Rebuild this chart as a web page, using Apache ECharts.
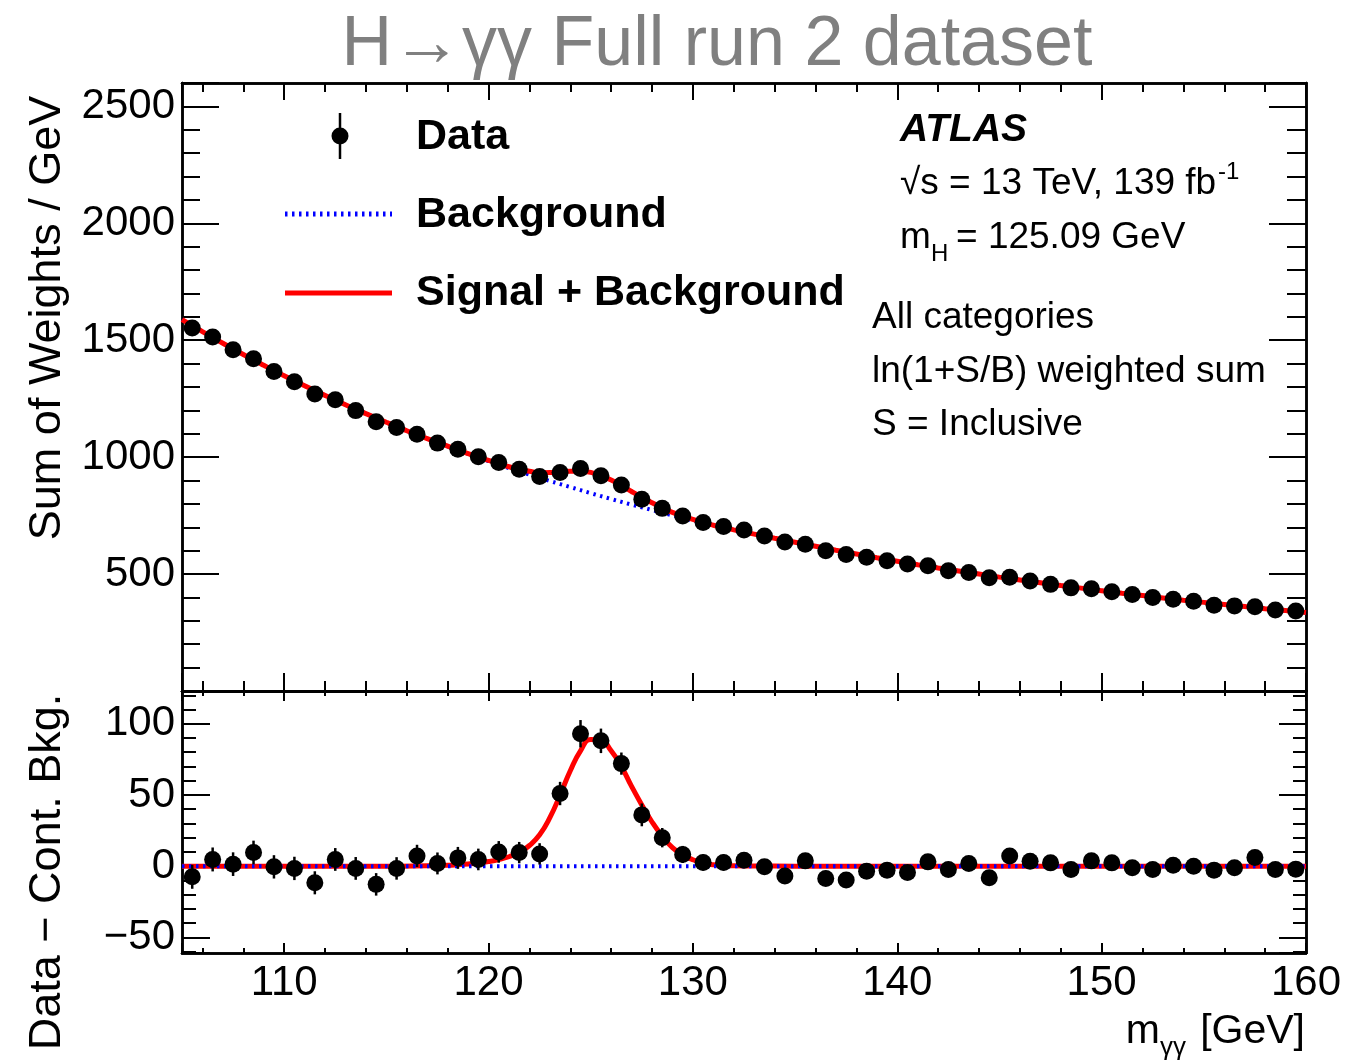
<!DOCTYPE html>
<html>
<head>
<meta charset="utf-8">
<title>H→γγ Full run 2 dataset</title>
<script src="https://cdn.jsdelivr.net/npm/echarts@6/dist/echarts.min.js"></script>
<style>
  html, body { margin: 0; padding: 0; background: #fff; }
  #chart { width: 1348px; height: 1064px; }
</style>
</head>
<body>
<div id="chart"></div>
<script>
// bin centres of m_yy [GeV]
var massBins = [105.5, 106.5, 107.5, 108.5, 109.5, 110.5, 111.5, 112.5, 113.5, 114.5,
  115.5, 116.5, 117.5, 118.5, 119.5, 120.5, 121.5, 122.5, 123.5, 124.5,
  125.5, 126.5, 127.5, 128.5, 129.5, 130.5, 131.5, 132.5, 133.5, 134.5,
  135.5, 136.5, 137.5, 138.5, 139.5, 140.5, 141.5, 142.5, 143.5, 144.5,
  145.5, 146.5, 147.5, 148.5, 149.5, 150.5, 151.5, 152.5, 153.5, 154.5,
  155.5, 156.5, 157.5, 158.5, 159.5];

// sum of weights / GeV (upper panel)
var dataWeights = [1552, 1514, 1459, 1421, 1366, 1322, 1270, 1245, 1199, 1151,
  1127, 1098, 1060, 1034, 1002, 977, 948, 917, 934, 951,
  920, 881, 820, 781, 748, 721, 703, 688, 663, 637,
  628, 600, 584, 572, 557, 543, 536, 514, 507, 484,
  486, 470, 456, 441, 437, 424, 413, 400, 392, 384,
  367, 364, 360, 346, 342];

// data - continuum background (lower panel)
var dataResid = [-7.5, 4.7, 1.4, 9.6, -0.5, -1.6, -11.7, 4.7, -1.6, -12.8,
  -1.6, 7.2, 1.9, 5.8, 4.7, 10, 9.5, 8.6, 51, 93,
  88, 72, 36, 20, 8.2, 2.6, 2.6, 4.2, -0.5, -7,
  3.7, -8.6, -9.8, -3.5, -2.8, -4.5, 3, -2.3, 1.9, -8.2,
  7.2, 3.5, 2.3, -2.3, 3.7, 2.3, -1.2, -2.3, 0.7, 0,
  -2.8, -1.2, 6.1, -2.3, -2.1];

// statistical uncertainty per bin
var dataErr = [8.4, 8.4, 8.3, 8.3, 8.2, 8.2, 8.1, 8.0, 8.0, 7.9,
  7.9, 7.8, 7.7, 7.7, 7.6, 7.6, 7.5, 7.5, 8.2, 9.6,
  8.6, 7.8, 8.0, 6.8, 6.0, 5.6, 5.5, 5.5, 5.4, 5.4,
  5.3, 5.3, 5.2, 5.2, 5.1, 5.1, 5.0, 5.0, 5.0, 4.9,
  4.9, 4.8, 4.8, 4.8, 4.7, 4.7, 4.7, 4.6, 4.6, 4.6,
  4.5, 4.5, 4.5, 4.4, 4.4];

// background fit curve
var bkgMass = [105, 106, 107, 108, 109, 110, 111, 112, 113, 114, 115, 116, 117, 118, 119, 120,
  121, 122, 123, 124, 125, 126, 127, 128, 129, 130, 131, 132, 133, 134, 135, 136, 137, 138,
  139, 140, 141, 142, 143, 144, 145, 146, 147, 148, 149, 150, 151, 152, 153, 154, 155, 156,
  157, 158, 159, 160];
var bkgFit = [1588, 1537, 1487, 1439, 1393, 1348, 1305, 1264, 1224, 1186, 1149, 1113, 1079, 1046, 1014, 983,
  953, 925, 898, 872, 846, 821, 797, 774, 751, 729, 708, 689, 671, 653, 636, 619, 602, 586,
  570, 555, 540, 526, 513, 500, 487, 475, 463, 451, 440, 429, 418, 408, 398, 388, 379, 370,
  361, 352, 344, 336];

// signal + background fit curve
var sbMass = [105, 106, 107, 108, 109, 110, 111, 112, 113, 114, 115, 116, 117,
  118, 118.5, 119, 119.5, 120, 120.5, 121, 121.5, 122, 122.5, 123, 123.5, 124, 124.5, 125,
  125.5, 126, 126.5, 127, 127.5, 128, 128.5, 129, 129.5, 130, 130.5, 131, 131.5, 132,
  133, 134, 135, 136, 137, 138, 139, 140, 141, 142, 143, 144, 145, 146, 147, 148, 149, 150,
  151, 152, 153, 154, 155, 156, 157, 158, 159, 160];
var sbFit = [1588, 1537, 1487, 1439, 1393, 1348, 1305, 1264, 1224, 1186, 1149, 1113, 1079,
  1047, 1031, 1015, 1000, 986, 972, 959, 948, 940, 933, 934, 937, 940, 940, 935,
  921, 902, 879, 853, 828, 805, 783, 764, 748, 734, 720, 709, 699, 689,
  671, 653, 636, 619, 602, 586, 570, 555, 540, 526, 513, 500, 487, 475, 463, 451, 440, 429,
  418, 408, 398, 388, 379, 370, 361, 352, 344, 336];

// signal component (lower panel)
var sigMass = [105, 110, 115, 117, 118, 118.5, 119, 119.5, 120, 120.5, 121, 121.5, 122, 122.5,
  123, 123.5, 124, 124.5, 125, 125.5, 126, 126.5, 127, 127.5, 128, 128.5, 129, 129.5,
  130, 130.5, 131, 131.5, 132, 133, 135, 140, 150, 160];
var sigFit = [0, 0, 0, 0.3, 0.6, 1.0, 1.5, 2.2, 3.2, 4.6, 6.6, 9.5, 14.5, 22,
  34, 50, 67, 81, 89, 88.5, 81, 70, 56, 43, 31, 21, 13, 8,
  4.5, 2.2, 1, 0.5, 0.2, 0.1, 0, 0, 0, 0];

var FONT = "'Liberation Sans', Arial, Helvetica, sans-serif";

function zip(xs, ys, es) {
  return xs.map(function (x, i) { return es ? [x, ys[i], es[i]] : [x, ys[i]]; });
}

// ROOT style frame: ticks on all four sides, major + minor
function xAx(grid, pos, nSplit, len, withLabels) {
  return {
    type: 'value', gridIndex: grid, position: pos, min: 105, max: 160, splitNumber: nSplit,
    axisLine: { show: true, onZero: false, lineStyle: { color: '#000', width: 2.5 } },
    axisTick: { show: true, inside: true, length: len, lineStyle: { color: '#000', width: 2 } },
    axisLabel: {
      show: withLabels, color: '#000', fontFamily: FONT, fontSize: 42, margin: 9,
      formatter: function (v) { return v % 10 === 0 ? String(v) : ''; }
    },
    splitLine: { show: false }
  };
}

function yAx(grid, pos, lo, hi, step, nSplit, len, labelStep) {
  var ax = {
    type: 'value', gridIndex: grid, position: pos, min: lo, max: hi,
    axisLine: { show: true, onZero: false, lineStyle: { color: '#000', width: 2.5 } },
    axisTick: { show: true, inside: true, length: len, lineStyle: { color: '#000', width: 2 } },
    axisLabel: {
      show: !!labelStep, color: '#000', fontFamily: FONT, fontSize: 42, margin: 7,
      formatter: function (v) {
        if (!labelStep || v % labelStep !== 0) return '';
        if (grid === 0 && (v <= 0 || v > 2500)) return '';
        if (grid === 1 && (v < -50 || v > 100)) return '';
        return String(v).replace('-', '\u2212');
      }
    },
    splitLine: { show: false }
  };
  if (step) ax.interval = step; else ax.splitNumber = nSplit;
  return ax;
}

function errBar(params, api) {
  var x = api.value(0), y = api.value(1), e = api.value(2);
  var hi = api.coord([x, y + e]);
  var lo = api.coord([x, y - e]);
  return {
    type: 'line',
    shape: { x1: hi[0], y1: hi[1], x2: lo[0], y2: lo[1] },
    style: { stroke: '#000', lineWidth: 2.5 }
  };
}

var chart = echarts.init(document.getElementById('chart'), null, { renderer: 'canvas' });

var option = {
  backgroundColor: '#fff',
  animation: false,
  grid: [
    { left: 182, top: 83, width: 1124, height: 608, containLabel: false, outerBoundsMode: 'none' },
    { left: 182, top: 691, width: 1124, height: 262, containLabel: false, outerBoundsMode: 'none' }
  ],
  xAxis: [
    xAx(0, 'bottom', 5, 18, false),
    xAx(0, 'bottom', 27, 10, false),
    xAx(0, 'top', 5, 17, false),
    xAx(0, 'top', 27, 9, false),
    xAx(1, 'bottom', 5, 10, true),
    xAx(1, 'bottom', 27, 5, false),
    xAx(1, 'top', 5, 10, false),
    xAx(1, 'top', 27, 5, false)
  ],
  yAxis: [
    yAx(0, 'left', 0, 2600, 500, null, 37, 500),
    yAx(0, 'left', 0, 2600, 100, null, 18, 0),
    yAx(0, 'right', 0, 2600, 500, null, 37, 0),
    yAx(0, 'right', 0, 2600, 100, null, 19, 0),
    yAx(1, 'left', -61, 123, null, 4, 28, 50),
    yAx(1, 'left', -61, 123, null, 18, 14, 0),
    yAx(1, 'right', -61, 123, null, 4, 27, 0),
    yAx(1, 'right', -61, 123, null, 18, 13, 0)
  ],
  series: [
    {
      name: 'Background', type: 'line', xAxisIndex: 0, yAxisIndex: 0, z: 2,
      data: zip(bkgMass, bkgFit), smooth: 0.4, showSymbol: false,
      lineStyle: { color: '#0000ff', width: 4, type: [2.5, 4.5] }
    },
    {
      name: 'Signal + Background', type: 'line', xAxisIndex: 0, yAxisIndex: 0, z: 3,
      data: zip(sbMass, sbFit), smooth: 0.4, showSymbol: false,
      lineStyle: { color: '#ff0000', width: 5 }
    },
    {
      name: 'Data err', type: 'custom', xAxisIndex: 0, yAxisIndex: 0, z: 4,
      data: zip(massBins, dataWeights, dataErr), renderItem: errBar,
      encode: { x: 0, y: 1 }
    },
    {
      name: 'Data', type: 'scatter', xAxisIndex: 0, yAxisIndex: 0, z: 5,
      data: zip(massBins, dataWeights), symbol: 'circle', symbolSize: 17,
      itemStyle: { color: '#000', opacity: 1 }
    },
    {
      name: 'Signal', type: 'line', xAxisIndex: 4, yAxisIndex: 4, z: 2,
      data: zip(sigMass, sigFit), smooth: 0.5, showSymbol: false,
      lineStyle: { color: '#ff0000', width: 5 }
    },
    {
      name: 'Continuum', type: 'line', xAxisIndex: 4, yAxisIndex: 4, z: 3,
      data: [[105, 0], [160, 0]], showSymbol: false,
      lineStyle: { color: '#0000ff', width: 4, type: [2.5, 4.5] }
    },
    {
      name: 'Resid err', type: 'custom', xAxisIndex: 4, yAxisIndex: 4, z: 4,
      data: zip(massBins, dataResid, dataErr), renderItem: errBar,
      encode: { x: 0, y: 1 }
    },
    {
      name: 'Resid', type: 'scatter', xAxisIndex: 4, yAxisIndex: 4, z: 5,
      data: zip(massBins, dataResid), symbol: 'circle', symbolSize: 17,
      itemStyle: { color: '#000', opacity: 1 }
    }
  ],
  graphic: [
    // title
    { type: 'text', x: 717, y: 46, style: { text: 'H\u2192\u03b3\u03b3 Full run 2 dataset', fill: '#808080',
      font: '70px ' + FONT, textAlign: 'center', textVerticalAlign: 'middle' } },
    // axis titles
    { type: 'text', x: 48, y: 318, rotation: Math.PI / 2, style: { text: 'Sum of Weights / GeV', fill: '#000',
      font: '45px ' + FONT, textAlign: 'center', textVerticalAlign: 'middle' } },
    { type: 'text', x: 48, y: 872, rotation: Math.PI / 2, style: { text: 'Data \u2212 Cont. Bkg.', fill: '#000',
      font: '45px ' + FONT, textAlign: 'center', textVerticalAlign: 'middle' } },
    { type: 'text', x: 1160, y: 1032, style: { text: 'm', fill: '#000', font: '41px ' + FONT,
      textAlign: 'right', textVerticalAlign: 'middle' } },
    { type: 'text', x: 1160, y: 1048, style: { text: '\u03b3\u03b3', fill: '#000', font: '26px ' + FONT,
      textAlign: 'left', textVerticalAlign: 'middle' } },
    { type: 'text', x: 1305, y: 1032, style: { text: '[GeV]', fill: '#000', font: '41px ' + FONT,
      textAlign: 'right', textVerticalAlign: 'middle' } },
    // legend
    { type: 'line', shape: { x1: 340, y1: 113, x2: 340, y2: 159 }, style: { stroke: '#000', lineWidth: 2.5 } },
    { type: 'circle', shape: { cx: 340, cy: 136, r: 8.5 }, style: { fill: '#000' } },
    { type: 'text', x: 416, y: 137, style: { text: 'Data', fill: '#000', font: 'bold 43px ' + FONT,
      textAlign: 'left', textVerticalAlign: 'middle' } },
    { type: 'line', shape: { x1: 285, y1: 214, x2: 392, y2: 214 },
      style: { stroke: '#0000ff', lineWidth: 5, lineDash: [2.5, 4.5] } },
    { type: 'text', x: 416, y: 215, style: { text: 'Background', fill: '#000', font: 'bold 43px ' + FONT,
      textAlign: 'left', textVerticalAlign: 'middle' } },
    { type: 'line', shape: { x1: 285, y1: 293, x2: 392, y2: 293 }, style: { stroke: '#ff0000', lineWidth: 5 } },
    { type: 'text', x: 416, y: 293, style: { text: 'Signal + Background', fill: '#000', font: 'bold 43px ' + FONT,
      textAlign: 'left', textVerticalAlign: 'middle' } },
    // ATLAS label block
    { type: 'text', x: 900, y: 130, style: { text: 'ATLAS', fill: '#000', font: 'italic bold 39px ' + FONT,
      textAlign: 'left', textVerticalAlign: 'middle' } },
    { type: 'text', x: 900, y: 184, style: { text: '\u221as = 13 TeV, 139 fb', fill: '#000', font: '37px ' + FONT,
      textAlign: 'left', textVerticalAlign: 'middle' } },
    { type: 'text', x: 1218, y: 172, style: { text: '-1', fill: '#000', font: '24px ' + FONT,
      textAlign: 'left', textVerticalAlign: 'middle' } },
    { type: 'text', x: 900, y: 238, style: { text: 'm', fill: '#000', font: '37px ' + FONT,
      textAlign: 'left', textVerticalAlign: 'middle' } },
    { type: 'text', x: 931, y: 254, style: { text: 'H', fill: '#000', font: '24px ' + FONT,
      textAlign: 'left', textVerticalAlign: 'middle' } },
    { type: 'text', x: 956, y: 238, style: { text: '= 125.09 GeV', fill: '#000', font: '37px ' + FONT,
      textAlign: 'left', textVerticalAlign: 'middle' } },
    { type: 'text', x: 872, y: 318, style: { text: 'All categories', fill: '#000', font: '37px ' + FONT,
      textAlign: 'left', textVerticalAlign: 'middle' } },
    { type: 'text', x: 872, y: 372, style: { text: 'ln(1+S/B) weighted sum', fill: '#000', font: '37px ' + FONT,
      textAlign: 'left', textVerticalAlign: 'middle' } },
    { type: 'text', x: 872, y: 425, style: { text: 'S = Inclusive', fill: '#000', font: '37px ' + FONT,
      textAlign: 'left', textVerticalAlign: 'middle' } }
  ]
};

chart.setOption(option);
window.onresize = function () { chart.resize(); };
</script>
</body>
</html>
